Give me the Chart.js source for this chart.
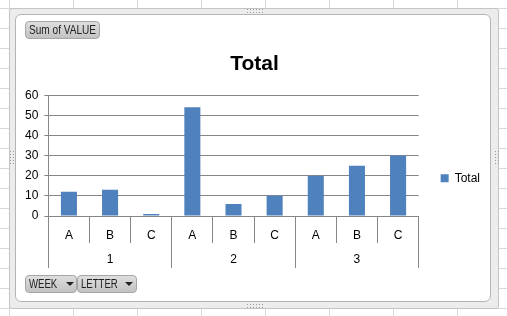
<!DOCTYPE html>
<html>
<head>
<meta charset="utf-8">
<script src="https://cdn.jsdelivr.net/npm/chart.js@4.4.1/dist/chart.umd.min.js"></script>
<style>
  body {
    margin: 0;
    width: 507px;
    height: 316px;
    overflow: hidden;
    position: relative;
    background-color: #fff;
    background-image: linear-gradient(to right, #d6d9de 1px, transparent 1px),
                      linear-gradient(to bottom, #d6d9de 1px, transparent 1px);
    background-size: 64px 20px;
    background-position: 9px 8px;
  }
  #frame {
    position: absolute; left: 9px; top: 8px; width: 490px; height: 301px;
    box-sizing: border-box; background: #ececec;
    border: 1px solid #c4c4c4; border-radius: 3px;
  }
  #inner {
    position: absolute; left: 15px; top: 14px; width: 476px; height: 288px;
    box-sizing: border-box; background: #fff;
    border: 1px solid #b4b4b4; border-radius: 6px;
  }
  .handle { position: absolute; background-image: radial-gradient(#9a9a9a 0.8px, transparent 1px); }
  #wrap { position: absolute; left: 0; top: 0; width: 507px; height: 316px; }
  .btn {
    position: absolute; height: 18px; box-sizing: border-box;
    border: 1px solid #a6a6a6; border-radius: 4px;
    background: linear-gradient(#dedede, #c2c2c2);
    font: 12px "Liberation Sans", Arial, sans-serif;
    color: #222; line-height: 16px; padding-left: 3px; white-space: nowrap;
  }
  .btn span.t { display: inline-block; transform-origin: left center; }
  .arrow {
    position: absolute; top: 6px; width: 0; height: 0;
    border-left: 4px solid transparent; border-right: 4px solid transparent;
    border-top: 4px solid #222;
  }
</style>
</head>
<body>
<div id="frame"></div>
<div id="inner"></div>
<div class="handle" style="left:246px;top:8px;width:18px;height:5px;background-size:3px 3px"></div>
<div class="handle" style="left:9px;top:150px;width:5px;height:16px;background-size:3px 3px"></div>
<div class="handle" style="left:494px;top:150px;width:5px;height:16px;background-size:3px 3px"></div>
<div class="handle" style="left:246px;top:303px;width:18px;height:5px;background-size:3px 3px"></div>
<div id="wrap"><canvas id="chart"></canvas></div>
<div class="btn" style="left:25px;top:21px;width:75px"><span class="t" style="transform:scaleX(0.84)">Sum of VALUE</span></div>
<div class="btn" style="left:25px;top:275px;width:52px"><span class="t" style="transform:scaleX(0.8)">WEEK</span><span class="arrow" style="left:40px"></span></div>
<div class="btn" style="left:77px;top:275px;width:60px"><span class="t" style="transform:scaleX(0.8)">LETTER</span><span class="arrow" style="left:47px"></span></div>
<script>
const letters = ["A", "B", "C", "A", "B", "C", "A", "B", "C"];
const weeks = ["1", "2", "3"];
const totals = [12, 13, 1, 54, 6, 10, 20, 25, 30];
const yMin = 0, yMax = 60, yStep = 10;

const gridColor = "#868686";
const tickFont = { family: "Liberation Sans, Arial, sans-serif", size: 12 };

Chart.defaults.font.family = "Liberation Sans, Arial, sans-serif";

// pivot-table style separators under the bars: short ones between letters,
// long ones between weeks
const axisTable = {
  id: "axisTable",
  afterDraw(chart) {
    const { ctx } = chart;
    const x = chart.scales.x, x2 = chart.scales.x2;
    const half = (x.getPixelForValue(1) - x.getPixelForValue(0)) / 2;
    const perWeek = letters.length / weeks.length;
    ctx.save();
    ctx.strokeStyle = gridColor;
    ctx.lineWidth = 1;
    ctx.beginPath();
    for (let i = 0; i <= letters.length; i++) {
      const px = Math.round(x.getPixelForValue(i) - half - 0.5) + 0.5;
      const bottom = i % perWeek === 0 ? x2.bottom : x.bottom;
      ctx.moveTo(px, x.top);
      ctx.lineTo(px, Math.round(bottom));
    }
    ctx.stroke();
    ctx.restore();
  }
};

new Chart(document.getElementById("chart"), {
  type: "bar",
  data: {
    labels: letters,
    datasets: [{
      label: "Total",
      data: totals,
      backgroundColor: "#4f81bd",
      borderWidth: 0,
      categoryPercentage: 1,
      barPercentage: 0.39
    }]
  },
  options: {
    responsive: true,
    maintainAspectRatio: false,
    animation: false,
    devicePixelRatio: 1,
    layout: { padding: { left: 19, right: 17, top: 42, bottom: 48 } },
    plugins: {
      title: {
        display: true,
        text: "Total",
        color: "#000",
        font: { family: "Liberation Sans, Arial, sans-serif", size: 21, weight: "bold" },
        padding: { top: 10, bottom: 18 }
      },
      legend: {
        position: "right",
        // empty title only pushes the single entry down to the Excel position
        title: { display: true, text: "", padding: 16 },
        labels: { boxWidth: 8, boxHeight: 8, padding: 22, color: "#000", font: tickFont }
      },
      tooltip: { enabled: false }
    },
    scales: {
      x: {
        type: "category",
        offset: true,
        grid: { drawOnChartArea: false, offset: true, tickLength: 12.6, color: "rgba(0,0,0,0)" },
        border: { display: true, color: gridColor },
        ticks: { autoSkip: false, maxRotation: 0, padding: 0, color: "#000", font: tickFont }
      },
      x2: {
        type: "category",
        labels: weeks,
        position: "bottom",
        offset: true,
        grid: { drawOnChartArea: false, offset: true, tickLength: 9, color: "rgba(0,0,0,0)" },
        border: { display: false },
        ticks: { autoSkip: false, maxRotation: 0, padding: 0.8, color: "#000", font: tickFont }
      },
      y: {
        min: yMin,
        max: yMax,
        grid: { color: gridColor, tickLength: 4 },
        border: { color: gridColor },
        ticks: { stepSize: yStep, padding: 6, color: "#000", font: tickFont }
      }
    }
  },
  plugins: [axisTable]
});
</script>
</body>
</html>
